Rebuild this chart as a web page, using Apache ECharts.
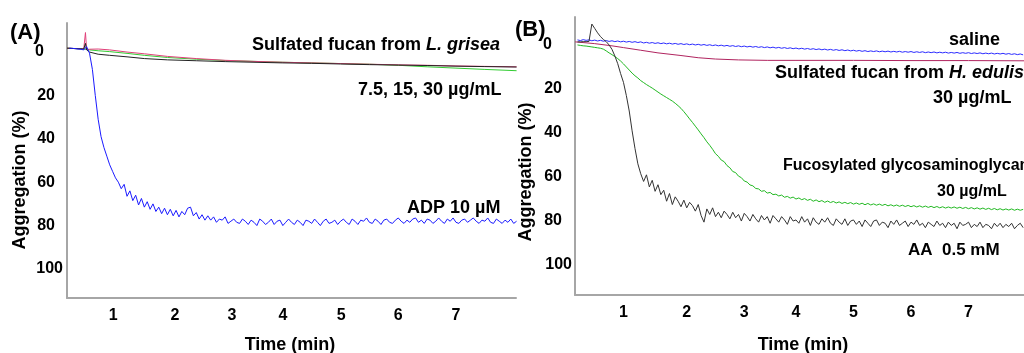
<!DOCTYPE html>
<html>
<head>
<meta charset="utf-8">
<script src="https://cdn.jsdelivr.net/npm/echarts@6.0.0/dist/echarts.min.js"></script>
<style>
  body { margin: 0; background: #fff; }
  #chart { width: 1024px; height: 353px; }
</style>
</head>
<body>
<div id="chart"></div>
<script>
// ---- data (time in min, aggregation in %) ----
var xTickLabels = ["1", "2", "3", "4", "5", "6", "7"];
var xTicksA = [1.06, 2.13, 3.12, 4, 5.01, 6, 7];
var xTicksB = [1, 2.1, 3.1, 4, 5, 6, 7];
var yTicks = [0, 20, 40, 60, 80, 100];

// panel A, sampled every 0.05 min
var tA = [
  0.30, 0.35, 0.40, 0.45, 0.50, 0.55, 0.60, 0.65, 0.70, 0.75,
  0.80, 0.85, 0.90, 0.95, 1.00, 1.05, 1.10, 1.15, 1.20, 1.25,
  1.30, 1.35, 1.40, 1.45, 1.50, 1.55, 1.60, 1.65, 1.70, 1.75,
  1.80, 1.85, 1.90, 1.95, 2.00, 2.05, 2.10, 2.15, 2.20, 2.25,
  2.30, 2.35, 2.40, 2.45, 2.50, 2.55, 2.60, 2.65, 2.70, 2.75,
  2.80, 2.85, 2.90, 2.95, 3.00, 3.05, 3.10, 3.15, 3.20, 3.25,
  3.30, 3.35, 3.40, 3.45, 3.50, 3.55, 3.60, 3.65, 3.70, 3.75,
  3.80, 3.85, 3.90, 3.95, 4.00, 4.05, 4.10, 4.15, 4.20, 4.25,
  4.30, 4.35, 4.40, 4.45, 4.50, 4.55, 4.60, 4.65, 4.70, 4.75,
  4.80, 4.85, 4.90, 4.95, 5.00, 5.05, 5.10, 5.15, 5.20, 5.25,
  5.30, 5.35, 5.40, 5.45, 5.50, 5.55, 5.60, 5.65, 5.70, 5.75,
  5.80, 5.85, 5.90, 5.95, 6.00, 6.05, 6.10, 6.15, 6.20, 6.25,
  6.30, 6.35, 6.40, 6.45, 6.50, 6.55, 6.60, 6.65, 6.70, 6.75,
  6.80, 6.85, 6.90, 6.95, 7.00, 7.05, 7.10, 7.15, 7.20, 7.25,
  7.30, 7.35, 7.40, 7.45, 7.50, 7.55, 7.60, 7.65, 7.70, 7.75,
  7.80, 7.85, 7.90, 7.95, 8.00, 8.05
];
var adpA = [
  -1.8, -1.7, -1.6, -1.4, -1.3, -1.0, -2.5, 0.5, 8, 20,
  31, 39, 44, 48, 52, 55, 58, 60, 63, 61,
  66.5, 64, 68.5, 66, 70.5, 67.5, 71.5, 69, 72.5, 70,
  73.5, 71.5, 74.5, 72, 75, 72.5, 75.5, 73, 76, 73.5,
  75, 72, 71.5, 75.5, 74, 77, 75, 77.5, 75.5, 77.5,
  76, 78.5, 77, 77.5, 76, 79, 78, 77, 78.5, 79,
  77, 78, 79.5, 77.5, 78.5, 80, 77, 78, 79.5, 78.5,
  77, 79.5, 78, 77.5, 80, 78.5, 77, 78.5, 79.5, 77.5,
  78.5, 80, 77.5, 78, 79, 77, 78.5, 80, 78, 77,
  79, 78.5, 77.5, 79.5, 78, 77, 78.5, 79.5, 77, 78,
  79.5, 77.5, 78, 76.5, 78.5, 79, 77, 78, 79.5, 77.5,
  77, 78.5, 79, 77.5, 76.5, 78, 79, 77.5, 78.5, 77,
  76.5, 78.5, 77.5, 79, 77, 77.5, 79, 78, 76.5, 78,
  79, 77, 78, 76.5, 78.5, 79, 77.5, 77, 78.5, 77.5,
  76.5, 78, 79, 77.5, 78, 76.5, 78.5, 79, 77, 78,
  79, 77.5, 78.5, 77, 79, 78
];
// sulfated fucan traces (7.5, 15, 30 ug/mL)
var tFlatA = [0.26, 0.4, 0.5, 0.55, 0.58, 0.6, 0.65, 0.8, 1.0, 1.3, 1.6, 2.0, 2.5, 3.0, 3.5, 4.0, 4.5, 5.0, 5.5, 6.0, 6.5, 7.0, 7.5, 8.05];
var fucanBlackA = [-1.8, -1.6, -1.5, -1.4, -4, -1, 0, 1, 1.5, 2.2, 3, 3.6, 4, 4.4, 4.7, 5, 5.2, 5.5, 5.8, 6, 6.2, 6.5, 6.7, 6.9];
var fucanPinkA = [-1.8, -1.6, -1.5, -1.4, -9, -1.2, -1.3, -1.4, -1, 0, 0.8, 2, 3, 3.8, 4.3, 4.7, 5, 5.3, 5.6, 5.9, 6.1, 6.4, 6.6, 6.8];
var fucanGreenA = [-1.8, -1.6, -1.5, -1.4, -1.2, -1.2, -1, -0.6, -0.2, 0.6, 1.5, 2.5, 3.3, 3.9, 4.3, 4.7, 5, 5.3, 5.6, 6.1, 6.8, 7.4, 8, 8.6];

// panel B, sampled every 0.05 min
var tB = [
  0.20, 0.25, 0.30, 0.35, 0.40, 0.45, 0.50, 0.55, 0.60, 0.65,
  0.70, 0.75, 0.80, 0.85, 0.90, 0.95, 1.00, 1.05, 1.10, 1.15,
  1.20, 1.25, 1.30, 1.35, 1.40, 1.45, 1.50, 1.55, 1.60, 1.65,
  1.70, 1.75, 1.80, 1.85, 1.90, 1.95, 2.00, 2.05, 2.10, 2.15,
  2.20, 2.25, 2.30, 2.35, 2.40, 2.45, 2.50, 2.55, 2.60, 2.65,
  2.70, 2.75, 2.80, 2.85, 2.90, 2.95, 3.00, 3.05, 3.10, 3.15,
  3.20, 3.25, 3.30, 3.35, 3.40, 3.45, 3.50, 3.55, 3.60, 3.65,
  3.70, 3.75, 3.80, 3.85, 3.90, 3.95, 4.00, 4.05, 4.10, 4.15,
  4.20, 4.25, 4.30, 4.35, 4.40, 4.45, 4.50, 4.55, 4.60, 4.65,
  4.70, 4.75, 4.80, 4.85, 4.90, 4.95, 5.00, 5.05, 5.10, 5.15,
  5.20, 5.25, 5.30, 5.35, 5.40, 5.45, 5.50, 5.55, 5.60, 5.65,
  5.70, 5.75, 5.80, 5.85, 5.90, 5.95, 6.00, 6.05, 6.10, 6.15,
  6.20, 6.25, 6.30, 6.35, 6.40, 6.45, 6.50, 6.55, 6.60, 6.65,
  6.70, 6.75, 6.80, 6.85, 6.90, 6.95, 7.00, 7.05, 7.10, 7.15,
  7.20, 7.25, 7.30, 7.35, 7.40, 7.45, 7.50, 7.55, 7.60, 7.65,
  7.70, 7.75, 7.80, 7.85, 7.90, 7.95
];
var aaB = [
  -1.4, -1.4, -1.5, -1.5, -1.6, -9.5, -7.5, -5.5, -3.8, -2.5,
  -1.5, 0, 2, 5, 8.5, 13, 17, 23, 30, 39,
  47, 54, 58.5, 62, 59, 64.5, 61.5, 66.5, 63.5, 68,
  66, 71, 67.5, 72.5, 69, 71, 73.5, 70.5, 74, 71.5,
  73, 75.5, 72.5, 77.5, 80.5, 74.5, 77, 74, 78, 76,
  78.5, 75.5, 77, 79, 76, 78.5, 77, 80, 76.5, 78,
  80, 77, 79, 80.5, 77.5, 79.5, 78, 81, 77.5, 79,
  80.5, 78, 79.5, 81.5, 78, 80, 79.5, 81, 78, 80.5,
  79, 82, 78.5, 80.5, 81.5, 79, 80.5, 78.5, 81, 82,
  79, 80.5, 81.5, 79, 82, 80, 79.5, 81.5, 80, 82.5,
  79.5, 81, 82.5, 80, 79.5, 82, 80.5, 81, 83, 80,
  81.5, 79.5, 82, 81, 80, 82.5, 80.5, 81.5, 79.5, 82,
  81, 83, 80.5, 81.5, 82.5, 80, 82, 81, 83, 80.5,
  82, 81, 83.5, 80.5, 82, 81.5, 80.5, 83, 81.5, 82.5,
  80.5, 83, 81.5, 82, 83.5, 81, 82.5, 81, 83, 81.5,
  82.5, 81, 83.5, 82, 81, 83
];
var fgagB = [
  0, 0.2, 0.4, 0.5, 0.7, 0.9, 1.1, 1.3, 1.5, 1.9,
  2.7, 3.6, 4.4, 5.3, 6.2, 7.3, 8.6, 10, 11.4, 12.8,
  14, 15, 16.2, 17.1, 18, 18.8, 19.6, 20.5, 21.4, 22.3,
  23.1, 23.9, 24.7, 25.5, 26.5, 27.6, 28.8, 30.3, 31.9, 33.6,
  35.2, 36.9, 38.6, 40.4, 42.1, 44, 45.6, 47.4, 49.4, 50.6,
  52.3, 53, 54.8, 55.8, 57.5, 58, 59.6, 60.3, 61.8, 62.3,
  63.6, 64, 65.2, 65.4, 66.5, 66.2, 67.3, 67, 68, 67.8,
  68.6, 68.2, 69.2, 68.8, 69.6, 69.1, 70, 69.5, 70.3, 69.8,
  70.6, 70.1, 71, 70.4, 71.2, 70.7, 71.5, 70.9, 71.6, 71.1,
  71.8, 71.3, 72, 71.5, 72.1, 71.6, 72.3, 71.8, 72.4, 71.9,
  72.6, 72, 72.7, 72.2, 72.8, 72.3, 72.9, 72.4, 73.1, 72.6,
  73.2, 72.7, 73.3, 72.8, 73.4, 72.9, 73.5, 73, 73.6, 73.1,
  73.7, 73.2, 73.8, 73.3, 73.9, 73.4, 74, 73.5, 74.1, 73.6,
  74.1, 73.6, 74.2, 73.7, 74.3, 73.8, 74.4, 73.9, 74.5, 74,
  74.6, 74.1, 74.7, 74.2, 74.8, 74.3, 74.9, 74.4, 75, 74.5,
  75, 74.5, 75.1, 74.6, 75.1, 74.7
];
var salineB = [
  -2.3, -2.0, -2.4, -2.1, -2.3, -1.9, -2.2, -1.8, -2.1, -1.7,
  -2.0, -1.6, -1.9, -1.5, -1.8, -1.4, -1.7, -1.3, -1.6, -1.2,
  -1.5, -1.1, -1.4, -0.9, -1.2, -0.8, -1.1, -0.7, -1.0, -0.6,
  -0.9, -0.5, -0.8, -0.4, -0.7, -0.3, -0.6, -0.2, -0.5, -0.1,
  -0.4, 0, -0.3, 0.1, -0.2, 0.2, -0.1, 0.3, 0, 0.4,
  0.1, 0.5, 0.2, 0.6, 0.3, 0.7, 0.4, 0.8, 0.5, 0.9,
  0.6, 1.0, 0.7, 1.1, 0.8, 1.2, 0.9, 1.3, 1.0, 1.4,
  1.1, 1.5, 1.2, 1.6, 1.3, 1.7, 1.4, 1.8, 1.5, 1.9,
  1.6, 2.0, 1.7, 2.1, 1.8, 2.2, 1.9, 2.3, 2.0, 2.4,
  2.1, 2.5, 2.2, 2.6, 2.3, 2.7, 2.4, 2.8, 2.5, 2.9,
  2.6, 3.0, 2.7, 3.0, 2.7, 3.1, 2.8, 3.1, 2.8, 3.2,
  2.9, 3.2, 2.9, 3.3, 3.0, 3.3, 3.0, 3.4, 3.1, 3.4,
  3.1, 3.5, 3.2, 3.5, 3.2, 3.6, 3.3, 3.6, 3.3, 3.7,
  3.4, 3.7, 3.4, 3.8, 3.5, 3.8, 3.5, 3.9, 3.6, 3.9,
  3.6, 4.0, 3.7, 4.0, 3.7, 4.1, 3.8, 4.1, 3.8, 4.2,
  3.9, 4.3, 4.0, 4.4, 4.1, 4.5
];
var tFucanB = [0.16, 0.5, 0.8, 1.0, 1.3, 1.6, 2.0, 2.3, 2.6, 3.0, 3.5, 4, 5, 6, 7, 7.97];
var fucanB = [-1.4, -0.6, 0.4, 1.2, 2.4, 3.6, 4.8, 5.8, 6.4, 6.8, 7.0, 7.0, 7.0, 7.1, 7.1, 7.2];

function pair(ts, vs) {
  return ts.map(function (t, i) { return [t, vs[i]]; });
}

var FONT = 'Arial, "Liberation Sans", sans-serif';

function xAxisCfg(idx, min, max, ticks) {
  return {
    type: "value", gridIndex: idx, min: min, max: max,
    splitLine: { show: false },
    axisTick: { show: false },
    axisLine: { onZero: false, lineStyle: { color: "#a6a6a6", width: 2 } },
    axisLabel: {
      customValues: ticks,
      margin: 10,
      color: "#000", fontSize: 16, fontWeight: "bold", fontFamily: FONT,
      formatter: function (v) { return xTickLabels[ticks.indexOf(v)]; }
    }
  };
}

function yAxisCfg(idx, min, max, margin, pad, padZero) {
  var rs = { fontSize: 16, fontWeight: "bold", fontFamily: FONT, color: "#000" };
  return {
    type: "value", gridIndex: idx, inverse: true, min: min, max: max,
    splitLine: { show: false },
    axisTick: { show: false },
    axisLine: { show: true, onZero: false, lineStyle: { color: "#a6a6a6", width: 2 } },
    axisLabel: {
      customValues: yTicks,
      margin: margin,
      align: "right",
      formatter: function (v) {
        if (v === 0) return "{z|0}";
        if (v === 100) return "{h|100}";
        return "{m|" + v + "}";
      },
      rich: {
        z: Object.assign({ padding: [0, padZero, 0, 0] }, rs),
        m: Object.assign({ padding: [0, pad, 0, 0] }, rs),
        h: Object.assign({}, rs)
      }
    }
  };
}

function line(name, data, color, xi) {
  return {
    name: name, type: "line", xAxisIndex: xi, yAxisIndex: xi,
    data: data, showSymbol: false, symbol: "none",
    lineStyle: { color: color, width: 1 }, z: 3
  };
}

var BASE = { fontSize: 18, fontWeight: "bold", fontFamily: FONT, fill: "#000" };

function txt(x, y, s, opt) {
  opt = opt || {};
  var size = opt.size || 18;
  return {
    type: "text", x: x, y: y, rotation: opt.rot || 0, z: 10,
    style: {
      text: s,
      font: "bold " + size + "px " + FONT,
      fill: "#000",
      align: opt.align || "left",
      verticalAlign: "middle",
      rich: {
        n: Object.assign({}, BASE, { fontSize: size }),
        i: Object.assign({}, BASE, { fontSize: size, fontStyle: "italic" })
      }
    }
  };
}

var chart = echarts.init(document.getElementById("chart"));
chart.setOption({
  animation: false,
  backgroundColor: "#fff",
  grid: [
    { left: 67, top: 23, width: 449, height: 275 },
    { left: 575, top: 17, width: 449, height: 278 }
  ],
  xAxis: [
    xAxisCfg(0, 0.26, 8.04, xTicksA),
    xAxisCfg(1, 0.157, 7.965, xTicksB)
  ],
  yAxis: [
    yAxisCfg(0, -13.4, 113.4, 4, 8, 19),
    yAxisCfg(1, -12.7, 113.6, 3, 10, 20)
  ],
  series: [
    line("fucan 30", pair(tFlatA, fucanGreenA), "#33cc33", 0),
    line("fucan 15", pair(tFlatA, fucanPinkA), "#e0407a", 0),
    line("fucan 7.5", pair(tFlatA, fucanBlackA), "#222222", 0),
    line("ADP", pair(tA, adpA), "#1a1aff", 0),
    line("H. edulis", pair(tFucanB, fucanB), "#b0245f", 1),
    line("saline", pair(tB, salineB), "#2b2bff", 1),
    line("FucCS", pair(tB, fgagB), "#22b822", 1),
    line("AA", pair(tB, aaB), "#333333", 1)
  ],
  graphic: [
    // panel A
    txt(10, 33, "(A)", { size: 22 }),
    txt(20, 180, "Aggregation (%)", { align: "center", rot: Math.PI / 2 }),
    txt(290, 345, "Time (min)", { align: "center" }),
    txt(252, 45, "{n|Sulfated fucan from }{i|L. grisea}"),
    txt(358, 90, "7.5, 15, 30 \u00b5g/mL"),
    txt(407, 208, "ADP 10 \u00b5M"),
    // panel B
    txt(515, 30, "(B)", { size: 22 }),
    txt(526, 172, "Aggregation (%)", { align: "center", rot: Math.PI / 2 }),
    txt(803, 345, "Time (min)", { align: "center" }),
    txt(949, 40, "saline"),
    txt(775, 73, "{n|Sulfated fucan from }{i|H. edulis}"),
    txt(933, 98, "30 \u00b5g/mL"),
    txt(783, 166, "Fucosylated glycosaminoglycan", { size: 16 }),
    txt(937, 192, "30 \u00b5g/mL", { size: 16 }),
    txt(908, 250, "AA  0.5 mM", { size: 17 })
  ]
});
</script>
</body>
</html>
